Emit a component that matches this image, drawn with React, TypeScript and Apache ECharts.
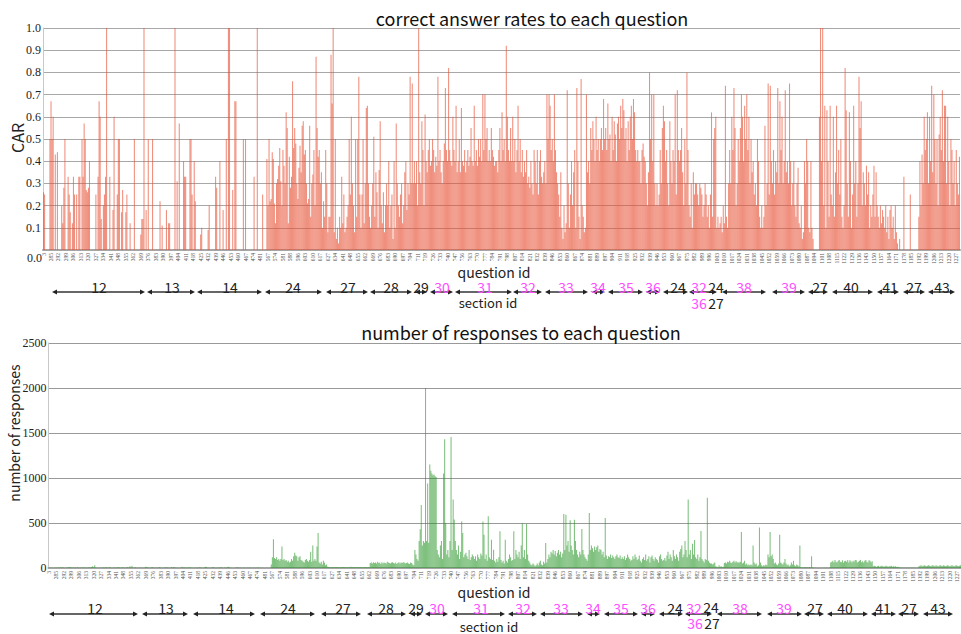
import React, { useEffect, useRef } from 'react';
import * as echarts from 'echarts';

// ---- categories: question ids (consecutive runs) ----
const idRanges: [number, number][] = [
  [3, 3], [279, 484], [564, 592], [594, 620], [624, 714], [716, 750],
  [753, 801], [804, 824], [829, 884], [886, 892], [894, 970], [972, 1230],
];
const questionIds: string[] = [];
for (const [a, b] of idRanges) for (let i = a; i <= b; i++) questionIds.push(String(i));

// ---- correct answer rate (percent) ----
const carA = [
  26,25,0,0,0,0,50,67,50,60,
  0,43,0,44,0,0,0,20,12,28,
  50,0,0,33,25,17,0,12,33,25,
  0,25,0,33,33,0,50,33,57,50,
  27,26,28,40,0,0,0,0,0,25,
  0,33,67,60,14,0,20,25,33,100,
  0,0,33,0,0,18,60,0,0,25,
  50,50,0,17,27,0,0,17,25,0,
  0,12,0,0,0,50,0,0,0,0,
  0,7,14,14,100,0,18,0,50,0,
];
const carB = [
  0,0,50,0,0,0,0,0,0,22,
  0,11,0,0,0,18,0,12,12,0,
  0,0,0,100,0,31,0,57,0,0,
  0,40,33,33,0,0,0,50,50,25,
  0,40,22,0,0,0,0,7,10,0,
  0,0,0,0,9,20,0,0,0,0,
  0,33,28,0,0,40,0,0,18,0,
  0,50,0,100,100,0,0,27,0,67,
  67,0,0,0,0,0,0,50,0,50,
  0,0,0,0,0,0,0,33,0,0,
];
const carC = [
  100,0,0,0,0,25,0,0,0,41,
  20,50,22,23,44,41,21,12,30,32,
  38,46,31,20,45,38,30,62,55,12,
  42,28,33,76,46,55,48,30,23,37,
  47,35,56,58,43,45,30,21,23,56,
  15,30,34,45,20,87,55,42,45,30,
  35,10,22,15,45,30,8,15,15,88,
  66,100,8,50,5,10,3,15,10,33,
  12,25,8,10,15,20,50,25,60,30,
  20,8,50,15,50,78,25,10,25,50,
];
const carD = [
  12,30,64,65,30,15,10,20,30,51,
  15,35,26,10,36,58,20,12,26,8,
  20,30,20,40,10,20,25,5,40,10,
  57,30,20,15,25,30,12,20,35,40,
  18,30,25,78,30,75,30,40,30,40,
  20,100,35,30,58,45,20,61,40,35,
  45,50,38,40,50,45,35,42,38,78,
  40,45,35,30,40,48,73,45,40,82,
  45,40,38,60,45,40,65,35,40,50,
  35,64,40,38,45,35,40,45,38,42,
];
const carE = [
  55,40,38,65,40,45,38,50,42,50,
  40,70,45,70,50,55,40,45,40,55,
  45,42,38,40,40,35,45,55,40,62,
  45,50,40,92,60,45,40,55,40,60,
  40,50,35,45,65,40,50,35,45,33,
  40,35,45,30,33,28,40,30,25,45,
  40,30,45,25,40,45,33,30,35,40,
  30,70,50,70,65,45,50,40,70,45,
  35,30,25,15,35,10,5,20,8,12,
  72,30,10,25,40,20,35,45,10,73,
];
const carF = [
  40,15,5,77,20,15,8,10,70,35,
  40,30,55,45,58,50,40,60,45,50,
  40,50,55,45,68,50,55,45,66,50,
  52,40,60,45,58,52,40,57,60,50,
  65,55,68,63,50,55,40,58,45,60,
  65,50,68,62,45,40,45,40,40,30,
  45,48,42,40,30,20,35,80,50,70,
  40,70,30,20,30,20,25,45,30,55,
  65,58,40,45,30,20,58,40,30,45,
  40,70,25,72,45,40,45,55,35,20,
];
const carG = [
  50,30,80,45,20,15,30,10,35,25,
  30,30,25,20,30,28,25,15,20,30,
  25,15,20,10,25,62,15,50,55,60,
  10,15,10,12,15,8,20,12,74,15,
  10,30,45,30,60,45,73,55,20,30,
  50,40,55,70,60,40,65,50,70,45,
  60,30,50,35,40,25,30,20,50,40,
  15,10,20,10,15,56,20,30,75,25,
  74,40,30,45,25,40,35,73,30,67,
  45,60,30,40,72,35,40,30,75,40,
];
const carH = [
  20,30,40,20,15,30,37,12,10,20,
  5,8,40,30,50,40,10,8,40,10,
  5,0,0,0,0,0,60,100,40,100,
  20,65,10,63,40,15,65,25,20,60,
  15,35,65,30,45,25,50,15,10,20,
  82,63,30,15,62,40,10,25,65,30,
  40,15,30,78,55,67,20,35,30,20,
  38,25,35,10,20,15,25,38,15,35,
  20,15,10,20,12,18,15,10,20,8,
  15,5,18,20,10,15,5,20,8,3,
];
const carI = [
  0,5,0,0,0,33,0,0,0,0,
  0,25,0,0,0,0,0,0,0,15,
  40,20,43,30,60,45,50,62,30,60,
  40,74,35,70,50,30,50,20,52,60,
  45,72,40,65,65,30,60,40,20,50,
  45,30,40,20,45,30,25,42,
];

// ---- number of responses ----
const respA = [
  4,4,2,3,0,2,2,3,4,5,
  2,7,3,9,2,0,3,5,8,7,
  12,3,2,6,4,6,3,8,3,4,
  2,8,3,6,3,2,4,6,7,4,
  11,19,7,30,3,2,1,2,3,4,
  2,6,3,5,7,2,5,8,6,1,
  2,3,6,2,3,11,5,2,3,8,
  4,2,3,6,11,2,20,6,25,3,
  2,8,3,1,2,4,3,2,1,2,
  3,14,7,7,1,2,3,11,4,2,
];
const respB = [
  3,2,4,3,10,2,3,1,2,9,
  3,9,2,3,1,11,2,8,8,3,
  2,1,3,1,2,13,3,7,2,3,
  2,5,6,6,3,2,1,4,2,4,
  2,5,9,3,1,2,3,14,10,2,
  3,1,2,3,11,5,2,1,3,2,
  2,6,7,3,1,5,2,3,11,15,
  2,4,1,1,1,3,2,11,2,3,
  3,2,1,2,3,1,2,4,2,2,
  3,1,2,2,1,2,3,6,1,2,
];
const respC = [
  1,2,1,0,1,4,0,1,2,40,
  120,320,110,100,120,90,100,80,100,240,
  90,100,80,90,70,80,60,70,100,80,
  130,170,140,130,80,120,130,90,80,70,
  60,90,100,80,70,90,180,70,250,80,
  100,80,240,390,60,50,70,40,80,60,
  30,40,15,12,10,8,10,12,8,10,
  12,10,8,6,10,8,12,10,8,10,
  6,10,8,12,15,10,8,12,10,8,
  10,8,12,10,6,10,8,10,12,8,
];
const respD = [
  10,12,55,60,50,65,55,60,50,70,
  55,60,45,65,50,60,55,50,70,60,
  55,50,60,65,55,50,60,45,55,65,
  50,60,55,65,60,50,55,60,50,45,
  60,55,40,30,200,150,100,80,300,430,
  700,250,300,280,2000,300,940,280,1150,1080,
  1050,1030,1040,1020,1010,200,150,120,250,300,
  100,1050,1430,500,150,200,120,300,1455,200,
  760,540,300,200,150,250,100,180,518,389,
  120,150,170,130,100,200,90,120,150,130,
];
const respE = [
  100,130,80,150,120,100,160,140,518,370,
  100,150,80,574,120,100,315,90,204,80,
  60,100,70,120,407,90,60,80,50,315,
  80,60,100,150,120,80,90,407,100,200,
  150,120,180,100,250,500,120,200,100,490,
  150,80,60,40,30,50,40,20,30,50,
  30,60,80,40,30,70,50,278,60,100,
  150,120,180,160,200,150,190,130,170,200,
  150,180,120,160,600,200,592,250,300,180,
  530,250,200,150,537,300,200,150,120,180,
];
const respF = [
  150,433,200,150,120,100,80,150,611,200,
  250,220,180,240,200,230,250,180,210,200,
  150,180,120,555,140,100,130,120,150,110,
  140,120,100,130,150,120,110,140,100,120,
  100,130,90,110,150,120,100,80,90,130,
  100,150,120,90,100,140,80,60,100,120,
  90,150,80,100,130,60,120,140,100,80,
  120,100,90,60,130,150,100,80,90,110,
  80,140,180,100,150,120,80,200,130,100,
  150,120,80,180,210,250,120,150,300,200,
];
const respG = [
  120,760,150,200,100,270,150,310,120,100,
  150,80,120,410,100,80,60,100,90,780,
  80,60,50,50,40,50,60,20,15,10,
  30,15,20,10,15,55,60,50,70,65,
  80,60,55,70,80,60,75,65,60,60,
  70,400,50,60,80,40,50,30,40,30,
  40,30,250,60,40,50,20,30,450,60,
  30,20,30,25,40,30,150,120,400,130,
  150,100,50,60,40,30,50,370,60,50,
  40,60,100,50,30,40,20,30,60,40,
];
const respH = [
  80,30,20,40,30,20,250,10,5,8,
  5,10,6,8,5,10,6,130,5,3,
  3,2,0,1,2,1,1,3,1,2,
  1,2,3,1,5,60,70,80,60,90,
  70,60,80,90,70,65,85,60,75,80,
  70,90,60,85,75,60,80,70,90,85,
  60,70,80,90,65,75,60,80,90,70,
  60,85,80,65,75,20,25,20,15,20,
  25,15,20,25,20,15,20,25,20,15,
  20,20,25,15,20,15,20,10,15,10,
];
const respI = [
  5,3,2,3,4,2,3,2,3,3,
  2,4,2,3,2,3,1,2,20,25,
  30,20,25,30,25,20,25,30,25,20,
  25,30,25,20,30,25,20,25,30,25,
  20,30,25,20,25,30,25,20,25,30,
  25,20,25,30,25,20,25,30,
];

const carRate = [...carA, ...carB, ...carC, ...carD, ...carE, ...carF, ...carG, ...carH, ...carI].map((v) => v / 100);
const responses = [...respA, ...respB, ...respC, ...respD, ...respE, ...respF, ...respG, ...respH, ...respI];

// ---- section ids (annotation) ----
const sectionIds = ['12','13','14','24','27','28','29','30','31','32','33','34','35','36','24','32','38','39','27','40','41','27','43'];
const crowdedExtraIds = ['24', '36', '27'];
const magentaSections = ['30','31','32','33','34','35','36','38','39'];

// ---- annotation layout (pixels) ----
const topSpans = [[52,145,99],[147,195,172],[197,262,230],[265,322,293],[326,368,348],[370,412,391],[415,427,421],[430,453,442],[455,512,485],[513,542,528],[545,588,566],[592,605,598],[608,643,626],[646,660,653],[663,688,678],[689,717,699],[722,766,744],[772,805,789],[808,828,820],[832,873,851],[877,899,890],[903,925,914],[928,955,942]];
const topExtraPos = [[716, 287], [699, 303], [716, 303]];
const bottomSpans = [[49,138,95],[142,188,166],[193,255,226],[260,315,288],[321,361,343],[367,406,386],[410,422,416],[425,448,437],[452,505,481],[508,537,523],[540,583,561],[587,600,593],[604,638,621],[641,655,648],[659,683,675],[685,712,694],[717,762,740],[767,802,784],[804,824,815],[827,868,845],[871,896,883],[898,919,909],[923,953,938]];
const bottomExtraPos = [[711, 607], [695, 623], [712, 623]];

const SANS = '"Noto Sans CJK JP", "Noto Sans", sans-serif';
const SERIF = '"Liberation Serif", "DejaVu Serif", serif';
const MAGENTA = '#ff4dff';

function secColor(id: string) {
  return magentaSections.includes(id) ? MAGENTA : '#222';
}

function sectionGraphics(spans: number[][], labelY: number, arrowY: number, extraPos: number[][]) {
  const els: any[] = [];
  spans.forEach((s, i) => {
    const [x1, x2, lx] = s;
    els.push({ type: 'line', shape: { x1: x1 + 3, y1: arrowY, x2: x2 - 3, y2: arrowY }, style: { stroke: '#333', lineWidth: 1.5 }, silent: true });
    els.push({ type: 'polygon', shape: { points: [[x1, arrowY], [x1 + 5, arrowY - 2.5], [x1 + 5, arrowY + 2.5]] }, style: { fill: '#222' }, silent: true });
    els.push({ type: 'polygon', shape: { points: [[x2, arrowY], [x2 - 5, arrowY - 2.5], [x2 - 5, arrowY + 2.5]] }, style: { fill: '#222' }, silent: true });
    els.push({ type: 'text', x: lx, y: labelY, style: { text: sectionIds[i], fill: secColor(sectionIds[i]), fontSize: 14, fontFamily: SANS, align: 'center', verticalAlign: 'middle' }, silent: true });
  });
  crowdedExtraIds.forEach((id, i) => {
    els.push({ type: 'text', x: extraPos[i][0], y: extraPos[i][1], style: { text: id, fill: secColor(id), fontSize: 14, fontFamily: SANS, align: 'center', verticalAlign: 'middle' }, silent: true });
  });
  return els;
}

function textEl(text: string, x: number, y: number, size: number, extra: any = {}) {
  return { type: 'text', x, y, ...extra, style: { text, fill: '#222', fontSize: size, fontFamily: SANS, align: 'center', verticalAlign: 'middle' }, silent: true };
}

export default function App() {
  const ref = useRef<HTMLDivElement>(null);
  useEffect(() => {
    if (!ref.current) return;
    const chart = echarts.init(ref.current, undefined, { renderer: 'svg', width: 961, height: 634 });
    const xAxisCommon = {
      type: 'category',
      data: questionIds,
      axisTick: { show: false },
      axisLine: { lineStyle: { color: '#a6a6a6', width: 2 } },
      axisLabel: { interval: 6, rotate: 90, fontSize: 5.5, color: '#555', margin: 3, fontFamily: SERIF },
      splitLine: { show: false },
    };
    const yLabel = { fontFamily: SERIF, fontSize: 12, color: '#222', margin: 2 };
    chart.setOption({
      animation: false,
      title: [
        { text: 'correct answer rates to each question', left: 527, top: 4, textAlign: 'center', textStyle: { fontSize: 18, fontWeight: 'normal', color: '#111', fontFamily: SANS } },
        { text: 'number of responses to each question', left: 516, top: 318, textAlign: 'center', textStyle: { fontSize: 18, fontWeight: 'normal', color: '#111', fontFamily: SANS } },
      ],
      grid: [
        { left: 43, top: 28, width: 917, height: 222 },
        { left: 48.5, top: 343, width: 913, height: 225 },
      ],
      xAxis: [
        { ...xAxisCommon, gridIndex: 0 },
        { ...xAxisCommon, gridIndex: 1 },
      ],
      yAxis: [
        {
          type: 'value', gridIndex: 0, min: 0, max: 1, interval: 0.1,
          axisLine: { show: true, lineStyle: { color: '#c8c8c8' } },
          axisTick: { show: false },
          splitLine: { lineStyle: { color: '#a8a8a8', width: 1.2 } },
          axisLabel: { ...yLabel, showMinLabel: false, formatter: (v: number) => v.toFixed(1) },
        },
        {
          type: 'value', gridIndex: 1, min: 0, max: 2500, interval: 500,
          axisLine: { show: true, lineStyle: { color: '#c8c8c8' } },
          axisTick: { show: false },
          splitLine: { lineStyle: { color: '#999', width: 1.2 } },
          axisLabel: { ...yLabel, formatter: (v: number) => String(v) },
        },
      ],
      series: [
        { type: 'bar', xAxisIndex: 0, yAxisIndex: 0, data: carRate, barCategoryGap: '0%', itemStyle: { color: 'rgba(232,80,52,0.64)' } },
        { type: 'bar', xAxisIndex: 1, yAxisIndex: 1, data: responses, barCategoryGap: '0%', itemStyle: { color: 'rgba(40,150,40,0.6)' } },
      ],
      graphic: [
        { type: 'text', x: 42, y: 258, style: { text: '0.0', fill: '#222', fontSize: 12, fontFamily: SERIF, align: 'right', verticalAlign: 'middle' }, silent: true },
        textEl('CAR', 17, 138, 16, { rotation: Math.PI / 2 }),
        textEl('number of responses', 14, 433, 14, { rotation: Math.PI / 2 }),
        textEl('question id', 494, 272, 14),
        textEl('section id', 488, 302.5, 13),
        textEl('question id', 494, 591.5, 14),
        textEl('section id', 489, 626, 13),
        ...sectionGraphics(topSpans, 287, 292, topExtraPos),
        ...sectionGraphics(bottomSpans, 607.5, 614, bottomExtraPos),
      ],
    });
    return () => chart.dispose();
  }, []);
  return <div ref={ref} style={{ position: 'absolute', left: 0, top: 0, width: 961, height: 634, background: '#fff' }} />;
}
